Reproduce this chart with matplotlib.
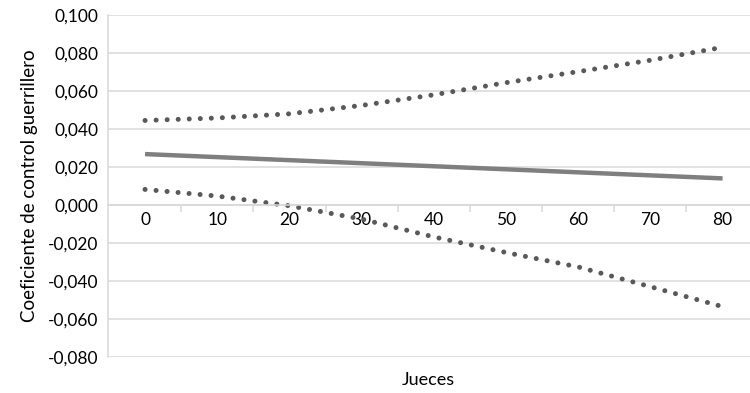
import matplotlib.pyplot as plt
from matplotlib.ticker import FuncFormatter

# valores
jueces = [0, 10, 20, 30, 40, 50, 60, 70, 80]
coef = [0.0268, 0.0252, 0.0236, 0.0220, 0.0204, 0.0188, 0.0172, 0.0156, 0.0140]
ic_sup = [0.0445, 0.0458, 0.0480, 0.0524, 0.0580, 0.0644, 0.0702, 0.0762, 0.0830]
ic_inf = [0.0082, 0.0047, -0.0004, -0.0074, -0.0168, -0.0250, -0.0326, -0.0430, -0.0535]

x_labels = [str(v) for v in jueces]
y_ticks = [-0.08, -0.06, -0.04, -0.02, 0.0, 0.02, 0.04, 0.06, 0.08, 0.10]

plt.rcParams['font.family'] = ['Lato', 'DejaVu Sans']

fig = plt.figure(figsize=(7.5, 3.93), dpi=100)
ax = fig.add_axes([0.144, 0.0916, 0.856, 0.8702])

dots = dict(color='#595959', lw=3.6, linestyle=(0, (0.01, 2.2)),
            dash_capstyle='round', solid_capstyle='round')
ax.plot(jueces, ic_sup, **dots)
ax.plot(jueces, ic_inf, **dots)
ax.plot(jueces, coef, color='#7f7f7f', lw=3.2, solid_capstyle='butt')

ax.set_xlim(-5.13, 83.8)
ax.set_ylim(-0.08, 0.10)
ax.set_yticks(y_ticks)
ax.yaxis.set_major_formatter(FuncFormatter(lambda v, p: f"{v:.3f}".replace('.', ',')))
ax.grid(axis='y', color='#d9d9d9', lw=1.1)
ax.set_axisbelow(True)

for s in ['top', 'right']:
    ax.spines[s].set_visible(False)
ax.spines['left'].set_color('#d9d9d9')
ax.spines['left'].set_linewidth(1.1)
ax.spines['bottom'].set_position(('data', 0))
ax.spines['bottom'].set_color('#d9d9d9')
ax.spines['bottom'].set_linewidth(1.1)

ax.set_xticks([5, 15, 25, 35, 45, 55, 65, 75])
ax.set_xticklabels([])
ax.set_xticks(jueces, minor=True)
ax.set_xticklabels(x_labels, minor=True)
ax.tick_params(axis='x', which='major', length=5, color='#d9d9d9', width=1.1)
ax.tick_params(axis='x', which='minor', length=0, pad=5, labelsize=12.5, labelcolor='black')
ax.tick_params(axis='y', length=0, pad=7, labelsize=12.5)

ax.set_ylabel('Coeficiente de control guerrillero', fontsize=13.5, labelpad=7)
fig.text(0.571, 0.033, 'Jueces', fontsize=13, ha='center', va='center')

fig.savefig('out.png', dpi=100)
